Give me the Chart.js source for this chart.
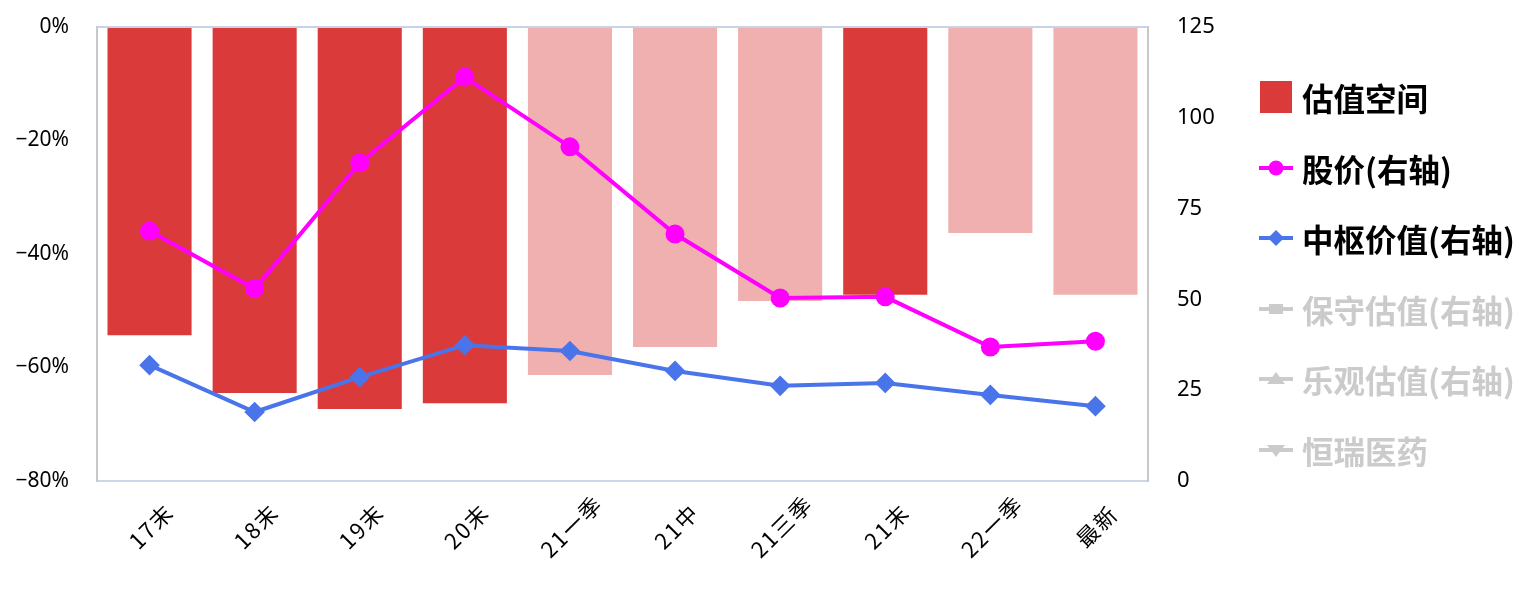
<!DOCTYPE html>
<html>
<head>
<meta charset="utf-8">
<script src="https://cdn.jsdelivr.net/npm/chart.js@4.4.0/dist/chart.umd.min.js"></script>
<style>
html, body { margin: 0; padding: 0; background: #fff; }
.chart-wrap { position: relative; width: 1535px; height: 589px; }
.legend { position: absolute; left: 1259px; top: 62px; margin: 0; padding: 0; list-style: none;
  font-family: "Noto Sans CJK SC", sans-serif; font-weight: bold; font-size: 31.5px; }
.legend li { display: flex; align-items: center; height: 70.5px; }
.legend canvas { width: 34px; margin-right: 9px; }
</style>
</head>
<body>
<div class="chart-wrap">
  <canvas id="valChart" width="1535" height="589"></canvas>
  <ul class="legend" id="valLegend"></ul>
</div>
<script>
const categories = ['17末', '18末', '19末', '20末', '21一季', '21中', '21三季', '21末', '22一季', '最新'];
const valuationSpace = [-54.3, -64.5, -67.3, -66.3, -61.3, -56.4, -48.3, -47.2, -36.3, -47.2];
const stockPrice = [68.8, 52.9, 87.6, 111.2, 92.0, 68.0, 50.4, 50.7, 36.9, 38.5];
const midValue = [31.9, 19.0, 28.6, 37.4, 35.8, 30.3, 26.2, 27.0, 23.7, 20.6];
const solidPeriods = ['17末', '18末', '19末', '20末', '21末'];
const seriesNames = ['估值空间', '股价(右轴)', '中枢价值(右轴)'];
const hiddenNames = ['保守估值(右轴)', '乐观估值(右轴)', '恒瑞医药'];

const RED = '#DA3A3A', PINK = '#F0B0B0', MAGENTA = '#FF00FF', BLUE = '#4A74EA', GREY = '#CBCBCB';

// legend markers: line with symbol in the middle
function marker(kind, color) {
  const c = document.createElement('canvas');
  c.width = 34; c.height = kind === 'box' ? 32 : 18;
  const g = c.getContext('2d');
  g.fillStyle = color; g.strokeStyle = color;
  if (kind === 'box') { g.fillRect(1, 0, 32, 32); return c; }
  g.lineWidth = 4;
  g.beginPath(); g.moveTo(0, 9); g.lineTo(34, 9); g.stroke();
  g.beginPath();
  if (kind === 'circle') g.arc(17, 9, 7.5, 0, Math.PI * 2);
  if (kind === 'diamond') { g.moveTo(17, 1); g.lineTo(25, 9); g.lineTo(17, 17); g.lineTo(9, 9); }
  if (kind === 'square') g.rect(10, 4, 14, 10);
  if (kind === 'tri') { g.moveTo(17, 2); g.lineTo(26, 14); g.lineTo(8, 14); }
  if (kind === 'tridown') { g.moveTo(8, 4); g.lineTo(26, 4); g.lineTo(17, 16); }
  g.closePath(); g.fill();
  return c;
}

// top frame line + x labels rotated 45deg, centred on each tick
const plotFrame = {
  id: 'plotFrame',
  afterDraw(chart) {
    const a = chart.chartArea, ctx = chart.ctx, xs = chart.scales.x;
    ctx.save();
    ctx.lineWidth = 2;
    ctx.strokeStyle = '#C9D2E4';
    ctx.beginPath(); ctx.moveTo(a.left, a.top); ctx.lineTo(a.right, a.top); ctx.stroke();
    ctx.font = '22px "Noto Sans CJK SC"';
    ctx.letterSpacing = '2px';
    ctx.fillStyle = '#000';
    ctx.textAlign = 'center';
    ctx.textBaseline = 'middle';
    chart.data.labels.forEach((lbl, i) => {
      ctx.save();
      ctx.translate(xs.getPixelForTick(i) + 1, a.bottom + 46);
      ctx.rotate(-Math.PI / 4);
      ctx.fillText(lbl, 1, 0);
      ctx.restore();
    });
    ctx.restore();
  }
};

const htmlLegend = {
  id: 'htmlLegend',
  afterUpdate(chart) {
    const ul = document.getElementById('valLegend');
    ul.innerHTML = '';
    const items = [
      { text: seriesNames[0], mark: marker('box', RED), color: '#000' },
      { text: seriesNames[1], mark: marker('circle', MAGENTA), color: '#000' },
      { text: seriesNames[2], mark: marker('diamond', BLUE), color: '#000' },
      { text: hiddenNames[0], mark: marker('square', GREY), color: GREY },
      { text: hiddenNames[1], mark: marker('tri', GREY), color: GREY },
      { text: hiddenNames[2], mark: marker('tridown', GREY), color: GREY }
    ];
    items.forEach(it => {
      const li = document.createElement('li');
      li.style.color = it.color;
      li.appendChild(it.mark);
      const span = document.createElement('span');
      span.textContent = it.text;
      li.appendChild(span);
      ul.appendChild(li);
    });
  }
};

new Chart(document.getElementById('valChart'), {
  type: 'bar',
  data: {
    labels: categories,
    datasets: [
      {
        type: 'line', label: seriesNames[1], data: stockPrice, yAxisID: 'y1', order: 0,
        borderColor: MAGENTA, backgroundColor: MAGENTA, borderWidth: 4,
        pointStyle: 'circle', pointRadius: 7.5, pointHoverRadius: 7.5, tension: 0
      },
      {
        type: 'line', label: seriesNames[2], data: midValue, yAxisID: 'y1', order: 0,
        borderColor: BLUE, backgroundColor: BLUE, borderWidth: 4,
        pointStyle: 'rectRot', pointRadius: 7.5, pointHoverRadius: 7.5, tension: 0
      },
      {
        type: 'bar', label: seriesNames[0], data: valuationSpace, yAxisID: 'y', order: 1,
        backgroundColor: categories.map(c => solidPeriods.includes(c) ? RED : PINK),
        barPercentage: 0.8, categoryPercentage: 1.0
      }
    ]
  },
  options: {
    responsive: false,
    animation: false,
    layout: { padding: { top: 27, left: 0, right: 285, bottom: 0 } },
    plugins: {
      tooltip: { enabled: false },
      legend: { display: false }
    },
    scales: {
      x: {
        grid: { display: false, drawTicks: false },
        border: { display: true, color: '#CDD6E8', width: 2 },
        ticks: { display: false },
        afterFit(s) { s.height = 108; }
      },
      y: {
        position: 'left', min: -80, max: 0,
        grid: { display: false, drawTicks: false },
        border: { display: true, color: '#C8C8C8', width: 2 },
        ticks: { stepSize: 20, color: '#000', padding: 28,
          font: { family: '"Noto Sans"', size: 21 },
          callback: v => (v < 0 ? '−' + Math.abs(v) : v) + '%' },
        afterFit(s) { s.width = 97; s.paddingTop = 0; s.paddingBottom = 0; }
      },
      y1: {
        position: 'right', min: 0, max: 125,
        grid: { display: false, drawTicks: false },
        border: { display: true, color: '#C8C8C8', width: 2 },
        ticks: { stepSize: 25, color: '#000', padding: 29,
          font: { family: '"Noto Sans"', size: 22 } },
        afterFit(s) { s.width = 102; s.paddingTop = 0; s.paddingBottom = 0; }
      }
    }
  },
  plugins: [plotFrame, htmlLegend]
});
</script>
</body>
</html>
